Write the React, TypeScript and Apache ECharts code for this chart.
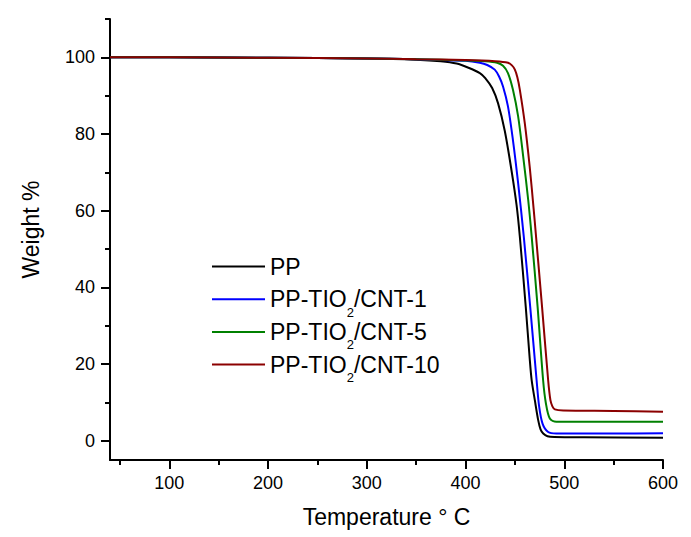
import React, { useEffect, useRef } from "react";
import * as echarts from "echarts";

const FONT = "'Liberation Sans', Arial, Helvetica, sans-serif";

const seriesNames = ["PP", "PP-TIO2/CNT-1", "PP-TIO2/CNT-5", "PP-TIO2/CNT-10"];
const seriesColors = ["#000000", "#0000ff", "#008000", "#8b0000"];

const ppTemp = [40, 100, 200, 300, 350, 375, 391, 403, 414.5, 420, 427, 433, 439.8, 446.6, 451.7, 455, 461, 465, 467, 470.2, 473.6, 476, 478.7, 483, 490, 520, 600];
const ppWeight = [100, 100, 99.9, 99.7, 99.4, 99.0, 98.4, 97.3, 95.9, 94.6, 92.0, 88.0, 80.8, 70.5, 61.5, 53.3, 35, 21.5, 15.8, 10.6, 5.4, 3.0, 1.9, 1.2, 1.0, 0.9, 0.8];

const cnt1Temp = [40, 100, 200, 300, 350, 400, 414.5, 422, 429.6, 434, 438, 443, 448, 453.3, 459, 465.5, 472, 474.6, 478, 483.7, 492, 550, 600];
const cnt1Weight = [100, 100, 99.9, 99.7, 99.5, 99.1, 98.6, 98.0, 96.8, 95.0, 92.4, 87.2, 78.5, 67.2, 53.3, 35, 15.8, 8.9, 4.5, 2.3, 1.9, 1.9, 2.0];

const cnt5Temp = [40, 100, 200, 300, 350, 400, 420, 432, 438, 443, 448, 453.3, 458.4, 463.5, 467, 473, 478.6, 481.4, 485.4, 492, 550, 600];
const cnt5Weight = [100, 100, 99.9, 99.7, 99.5, 99.2, 99.0, 98.6, 97.8, 95.9, 91.6, 84.6, 74.2, 62.8, 53.3, 35, 15.8, 9.8, 5.8, 5.0, 5.0, 5.0];

const cnt10Temp = [40, 100, 200, 300, 350, 400, 430, 443, 447, 450, 452.5, 455, 460, 465, 469, 471.2, 477.5, 483.7, 486, 488, 490.5, 499, 550, 600];
const cnt10Weight = [100, 100, 99.9, 99.7, 99.5, 99.3, 99.0, 98.6, 97.9, 96.8, 94.8, 91.6, 82.9, 71.5, 60.5, 54, 35, 15.8, 10.6, 9.0, 8.2, 7.9, 7.8, 7.6];

const xMajorTicks = [100, 200, 300, 400, 500, 600];
const xMinorTicks = [50, 150, 250, 350, 450, 550];
const yMajorTicks = [0, 20, 40, 60, 80, 100];
const yMinorTicks = [10, 30, 50, 70, 90, 110];

const temps = [ppTemp, cnt1Temp, cnt5Temp, cnt10Temp];
const weights = [ppWeight, cnt1Weight, cnt5Weight, cnt10Weight];

const X_MIN = 40;
const X_MAX = 600;
const Y_MIN = -5;
const Y_MAX = 110;

export default function App() {
  const ref = useRef<HTMLDivElement>(null);

  useEffect(() => {
    if (!ref.current) return;
    const chart = echarts.init(ref.current, undefined, { renderer: "svg" });

    const series = seriesNames.map((name, i) => ({
      name,
      type: "line",
      xAxisIndex: 0,
      yAxisIndex: 0,
      data: temps[i].map((t, j) => [t, weights[i][j]]),
      showSymbol: false,
      symbol: "none",
      smooth: 0.3,
      lineStyle: { color: seriesColors[i], width: 2 },
      itemStyle: { color: seriesColors[i] },
      color: seriesColors[i],
    }));

    const legendFormatter = (name: string) => {
      const idx = name.indexOf("TIO2");
      if (idx < 0) return `{m|${name}}{s| }`;
      return `{m|${name.slice(0, idx + 3)}}{s|2}{m|${name.slice(idx + 4)}}`;
    };

    const axisLineStyle = { color: "#000", width: 2 };

    chart.setOption({
      animation: false,
      backgroundColor: "#ffffff",
      grid: { left: 110, right: 28, top: 19, bottom: 77, containLabel: false },
      legend: {
        show: true,
        orient: "vertical",
        left: 212,
        top: 255,
        padding: 0,
        itemGap: 1.7,
        itemWidth: 53,
        itemHeight: 14,
        icon: "path://M0,0 L0,0 M53,14 L53,14 M0,2 L53,2 L53,4 L0,4 Z",
        itemStyle: { borderWidth: 0 },
        data: seriesNames,
        formatter: legendFormatter,
        textStyle: {
          color: "#000",
          fontFamily: FONT,
          fontSize: 23,
          rich: {
            m: { fontFamily: FONT, fontSize: 23, color: "#000", padding: [0, 0, 8, 0] },
            s: { fontFamily: FONT, fontSize: 13, color: "#000", padding: [18, 0, 0, 0] },
          },
        },
      },
      xAxis: [
        {
          type: "value",
          min: X_MIN,
          max: X_MAX,
          position: "bottom",
          name: "Temperature ° C",
          nameLocation: "middle",
          nameGap: 45,
          nameTextStyle: { fontFamily: FONT, fontSize: 23, color: "#000" },
          axisLine: { show: true, onZero: false, lineStyle: axisLineStyle },
          axisTick: { show: true, inside: false, length: 9, lineStyle: { color: "#000", width: 2 }, customValues: xMajorTicks },
          axisLabel: { show: true, margin: 14, fontFamily: FONT, fontSize: 18, color: "#000", customValues: xMajorTicks },
          splitLine: { show: false },
        },
        {
          type: "value",
          min: X_MIN,
          max: X_MAX,
          position: "bottom",
          axisLine: { show: false, onZero: false },
          axisTick: { show: true, inside: false, length: 5, lineStyle: { color: "#000", width: 2 }, customValues: xMinorTicks },
          axisLabel: { show: false, customValues: xMinorTicks },
          splitLine: { show: false },
        },
      ],
      yAxis: [
        {
          type: "value",
          min: Y_MIN,
          max: Y_MAX,
          position: "left",
          name: "Weight %",
          nameLocation: "middle",
          nameGap: 68,
          nameRotate: 90,
          nameTextStyle: { fontFamily: FONT, fontSize: 23, color: "#000", padding: [0, 0, 0, 20] },
          axisLine: { show: true, onZero: false, lineStyle: axisLineStyle },
          axisTick: { show: true, inside: false, length: 9, lineStyle: { color: "#000", width: 2 }, customValues: yMajorTicks },
          axisLabel: { show: true, margin: 15, fontFamily: FONT, fontSize: 18, color: "#000", customValues: yMajorTicks },
          splitLine: { show: false },
        },
        {
          type: "value",
          min: Y_MIN,
          max: Y_MAX,
          position: "left",
          offset: 0,
          axisLine: { show: false, onZero: false },
          axisTick: { show: true, inside: false, length: 5, lineStyle: { color: "#000", width: 2 }, customValues: yMinorTicks },
          axisLabel: { show: false, customValues: yMinorTicks },
          splitLine: { show: false },
        },
      ],
      series,
    });

    return () => {
      chart.dispose();
    };
  }, []);

  return (
    <div
      ref={ref}
      style={{ position: "fixed", left: 0, top: 0, width: 691, height: 537, background: "#fff" }}
    />
  );
}
